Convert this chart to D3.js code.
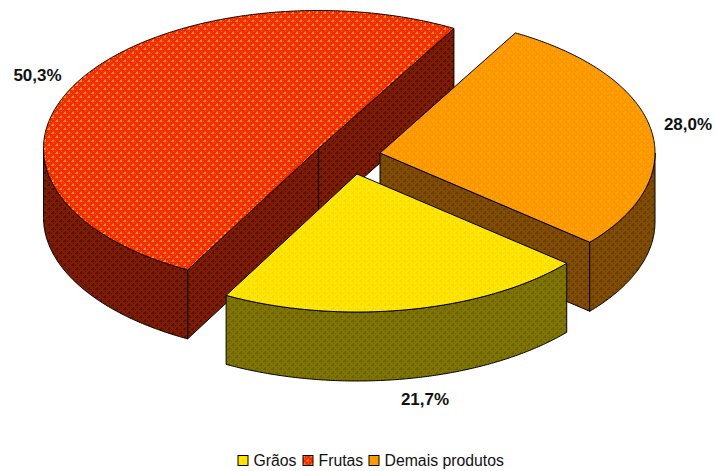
<!DOCTYPE html>
<html>
<head>
<meta charset="utf-8">
<script src="https://cdn.jsdelivr.net/npm/d3@7/dist/d3.min.js"></script>
<style>
  html, body { margin: 0; padding: 0; background: #fff; }
  svg { display: block; }
  text { font-family: "Liberation Sans", Arial, sans-serif; fill: #111; }
</style>
</head>
<body>
<svg id="chart" width="715" height="471"></svg>
<script>
// Participação por grupo de produtos
const categories = ["Grãos", "Frutas", "Demais produtos"];
const shares = [21.7, 50.3, 28.0];

// Top face and side wall colours for each slice
const topBase = ["#ffe800", "#ff2400", "#ff9600"];
const topDot = ["#ffd400", "#ff9000", "#ffa800"];
const wallBase = ["#807400", "#7c1c00", "#804c00"];
const wallDot = ["#6c6200", "#5a0e00", "#6a3e00"];

const W = 715, H = 471;
const rx = 275, ry = 138, depth = 69;
const rad = Math.PI / 180;
const firstAngle = 130.3 * rad;

// Each slice is pulled out of the pie to its own centre
const centres = [[357, 174], [318.5, 148.5], [380, 153]];
const labelPos = [[425, 405], [37.5, 81], [688, 130]];
const legendSwatchX = [238, 303, 369];

const svg = d3.select("#chart");
const defs = svg.append("defs");

// Small diagonal lattice tile used for the hatched fills
function addPattern(id, base, dot) {
  const p = defs.append("pattern")
    .attr("id", id).attr("patternUnits", "userSpaceOnUse")
    .attr("width", 8).attr("height", 8);
  p.append("rect").attr("width", 8).attr("height", 8).attr("fill", base);
  const cells = [[0, 0, 2], [4, 4, 2], [3, 1, 1], [7, 1, 1], [1, 3, 1], [5, 3, 1], [3, 5, 1], [7, 5, 1], [1, 7, 1], [5, 7, 1]];
  p.selectAll("rect.c").data(cells).join("rect").attr("class", "c")
    .attr("x", d => d[0]).attr("y", d => d[1])
    .attr("width", d => d[2]).attr("height", d => d[2]).attr("fill", dot);
}
categories.forEach((c, i) => {
  addPattern("top" + i, topBase[i], topDot[i]);
  addPattern("wall" + i, wallBase[i], wallDot[i]);
});

const pie = d3.pie().sort(null).value(d => d)
  .startAngle(firstAngle).endAngle(firstAngle + 2 * Math.PI);
const arcs = pie(shares);

const line = d3.line();
const at = (c, a, dz = 0) => [c[0] + rx * Math.sin(a), c[1] - ry * Math.cos(a) + dz];
const sweep = (c, a0, a1, dz = 0) => {
  const n = Math.max(2, Math.ceil(Math.abs(a1 - a0) / (0.5 * rad)));
  return d3.range(n + 1).map(k => at(c, a0 + (a1 - a0) * k / n, dz));
};

const outline = g => g.attr("stroke", "#000").attr("stroke-width", 1).attr("stroke-linejoin", "round");

// Flat cut face between the slice centre and a rim point
function face(g, c, a, i) {
  const p = at(c, a);
  g.append("path")
    .attr("d", line([c, p, [p[0], p[1] + depth], [c[0], c[1] + depth]]) + "Z")
    .attr("fill", `url(#wall${i})`).call(outline);
}

// Curved rim wall, limited to the half of the ellipse facing the viewer
function rim(g, c, a0, a1, i) {
  const lo = Math.max(a0, Math.PI / 2), hi = Math.min(a1, 3 * Math.PI / 2);
  const lo2 = Math.max(a0 - 2 * Math.PI, Math.PI / 2), hi2 = Math.min(a1 - 2 * Math.PI, 3 * Math.PI / 2);
  [[lo, hi], [lo2, hi2]].filter(r => r[1] > r[0]).forEach(r => {
    const path = sweep(c, r[0], r[1]).concat(sweep(c, r[1], r[0], depth));
    g.append("path").attr("d", line(path) + "Z")
      .attr("fill", `url(#wall${i})`).call(outline);
  });
}

function topFace(g, c, a0, a1, i) {
  g.append("path").attr("d", line([c].concat(sweep(c, a0, a1))) + "Z")
    .attr("fill", `url(#top${i})`).call(outline);
}

// Painter's order: the back slice first, the front slice last
const g = svg.append("g");

const fruit = arcs[1];
face(g, centres[1], fruit.startAngle, 1);
face(g, centres[1], fruit.endAngle, 1);
rim(g, centres[1], fruit.startAngle, fruit.endAngle, 1);
topFace(g, centres[1], fruit.startAngle, fruit.endAngle, 1);

const other = arcs[2];
face(g, centres[2], other.endAngle - 2 * Math.PI, 2);
rim(g, centres[2], other.startAngle, other.endAngle, 2);
topFace(g, centres[2], other.startAngle, other.endAngle, 2);

const grain = arcs[0];
rim(g, centres[0], grain.startAngle, grain.endAngle, 0);
topFace(g, centres[0], grain.startAngle, grain.endAngle, 0);

// Percentage labels
svg.append("g").selectAll("text").data(shares).join("text")
  .attr("x", (d, i) => labelPos[i][0]).attr("y", (d, i) => labelPos[i][1])
  .attr("text-anchor", "middle")
  .attr("font-size", 17).attr("font-weight", "bold")
  .text(d => d.toFixed(1).replace(".", ",") + "%");

// Legend
const legend = svg.append("g").selectAll("g").data(categories).join("g")
  .attr("transform", (d, i) => `translate(${legendSwatchX[i]},455.5)`);
legend.append("rect").attr("width", 10).attr("height", 10)
  .attr("fill", (d, i) => `url(#top${i})`).attr("stroke", "#000");
legend.append("text").attr("x", 15.5).attr("y", 10.5)
  .attr("font-size", 15.8).text(d => d);
</script>
</body>
</html>
